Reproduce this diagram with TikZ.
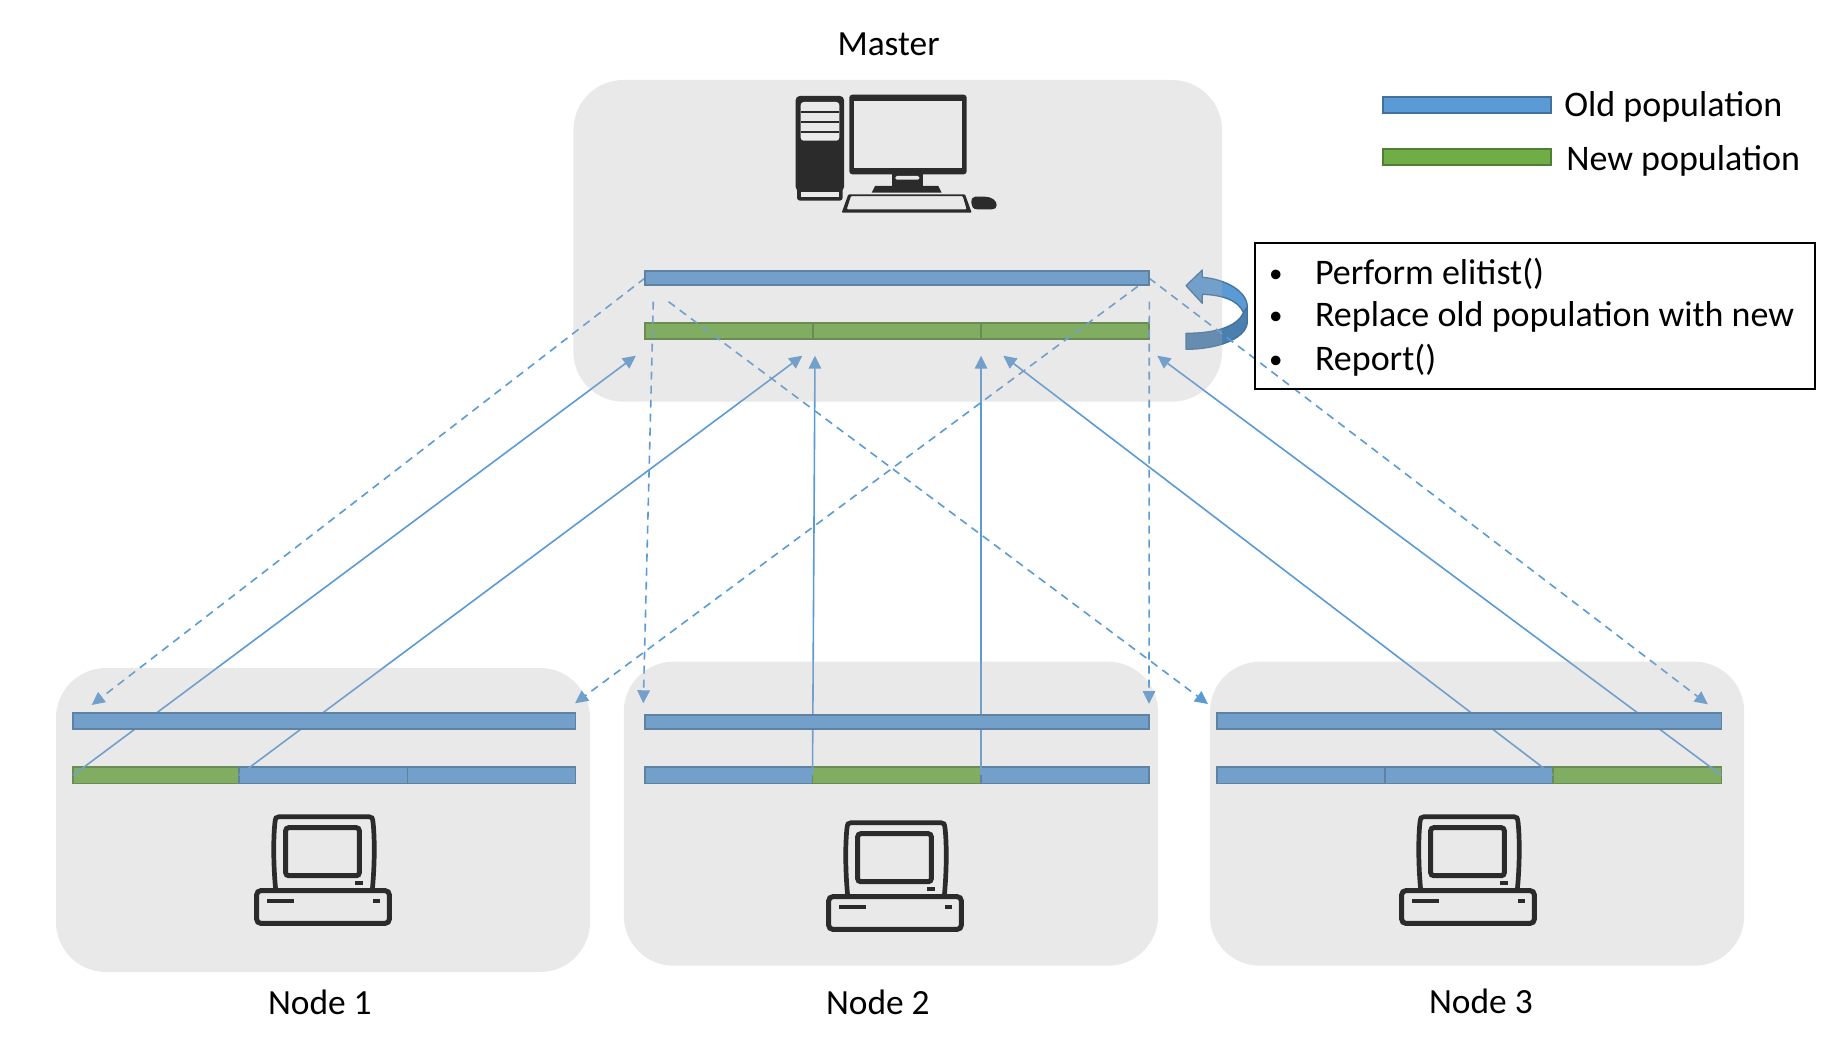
\documentclass[tikz,border=0pt]{standalone}
\usepackage{fontspec}
\setmainfont{Carlito}
\usetikzlibrary{arrows.meta}
\pgfdeclarelayer{lowbars}
\pgfdeclarelayer{conn}
\pgfdeclarelayer{upbars}
\pgfdeclarelayer{veil}
\pgfsetlayers{lowbars,conn,upbars,veil,main}
\definecolor{oldfill}{HTML}{5B9BD5}
\definecolor{oldedge}{HTML}{41719C}
\definecolor{newfill}{HTML}{70AD47}
\definecolor{newedge}{HTML}{507E32}
\definecolor{veilcol}{HTML}{AFAFAF}
\definecolor{panel}{HTML}{E9E9E9}
\definecolor{icon}{HTML}{2B2B2B}
\tikzset{
  x=1pt,y=-1pt,
  barbase/.style={rectangle,anchor=north west,inner sep=0pt,outer sep=0pt,line width=1.8pt},
  oldbar/.style={barbase,fill=oldfill,draw=oldedge},
  newbar/.style={barbase,fill=newfill,draw=newedge},
  hostbox/.style={rectangle,anchor=north west,inner sep=0pt,outer sep=0pt,rounded corners=50pt,fill=veilcol,fill opacity=.274},
  label/.style={anchor=base west,inner sep=0pt,outer sep=0pt,font=\fontsize{36}{42}\selectfont},
  title/.style={anchor=base west,inner sep=0pt,outer sep=0pt,font=\fontsize{35.4}{42}\selectfont},
  sendline/.style={draw=oldfill,line width=1.6pt,dash pattern=on 8pt off 6pt,-{Triangle[length=13pt,width=12.5pt,fill=oldfill]}},
  backline/.style={draw=oldfill,line width=1.6pt,-{Triangle[length=13pt,width=12.5pt,fill=oldfill]}},
  smallpc/.pic={
    \draw[icon,line width=5pt,rounded corners=4pt] (256.7,890.7) rectangle (389.3,923.3);
    \draw[icon,line width=4.7pt,line cap=round] (275.5,888) .. controls (273,860) and (273.5,835) .. (275,822) .. controls (275.5,818) and (276,816.7) .. (279,816.7) -- (369,816.7) .. controls (372,816.7) and (372.5,818) .. (373,822) .. controls (374.5,835) and (375,860) .. (372.5,888);
    \draw[icon,line width=5pt,rounded corners=3pt] (285.7,827.7) rectangle (359.3,875.7);
    \fill[icon] (355.3,881) rectangle (363,885);
    \fill[icon] (266.7,899.3) rectangle (294.3,903.3);
    \fill[icon] (372.7,899) rectangle (380,903);
  }
}
\newcommand{\smallbullet}{\makebox[46pt][l]{\raisebox{1.5pt}{\fontsize{27}{30}\selectfont •}}}
\begin{document}
\begin{tikzpicture}
\useasboundingbox (0,0) rectangle (1848,1038);
% connector free ends
\coordinate (upA) at (635.9,355.7);
\coordinate (upB) at (802.4,355.7);
\coordinate (upC) at (815,355.7);
\coordinate (upD) at (981,355.7);
\coordinate (upE) at (1003.3,355.7);
\coordinate (upF) at (1157.3,355.7);
\coordinate (dnA) at (91.7,705);
\coordinate (dnB) at (575,703.3);
\coordinate (dnC) at (643.3,703.3);
\coordinate (dnD) at (1149,704);
\coordinate (dnE) at (1208,704);
\coordinate (dnF) at (1707.8,704.3);
\coordinate (mstartB) at (653.3,301.7);
\coordinate (mstartE) at (668.5,301.7);
\coordinate (mstartD) at (1149.3,301.7);
% lower bars
\begin{pgfonlayer}{lowbars}
\fill[white] (0,0) rectangle (1848,1038);
\node[newbar,minimum width=168pt,minimum height=16.5pt] (mg1) at (645,322.7) {};
\node[newbar,minimum width=168pt,minimum height=16.5pt] (mg2) at (813,322.7) {};
\node[newbar,minimum width=168pt,minimum height=16.5pt] (mg3) at (981,322.7) {};
\node[newbar,minimum width=166pt,minimum height=16.5pt] (n1a) at (73,767) {};
\node[oldbar,minimum width=168.5pt,minimum height=16.5pt] (n1b) at (239,767) {};
\node[oldbar,minimum width=168pt,minimum height=16.5pt] (n1c) at (407.5,767) {};
\node[oldbar,minimum width=167.5pt,minimum height=16.5pt] (n2a) at (645,767) {};
\node[newbar,minimum width=168.5pt,minimum height=16.5pt] (n2b) at (812.5,767) {};
\node[oldbar,minimum width=168pt,minimum height=16.5pt] (n2c) at (981,767) {};
\node[oldbar,minimum width=168pt,minimum height=16.5pt] (n3a) at (1217,767) {};
\node[oldbar,minimum width=168pt,minimum height=16.5pt] (n3b) at (1385,767) {};
\node[newbar,minimum width=168.5pt,minimum height=16.5pt] (n3c) at (1553,767) {};
% curved arrow
\fill[oldfill] (1186,285.7) -- (1202.3,270) -- (1202.3,277.3) .. controls (1225,279) and (1247.3,291) .. (1247.3,307) -- (1243.5,312.5) .. controls (1238,300) and (1222,295) .. (1202.3,294.3) -- (1202.3,303.3) -- cycle;
\draw[oldedge,line width=1.3pt,line join=round] (1186,285.7) -- (1202.3,270) -- (1202.3,277.3) .. controls (1225,279) and (1247.3,291) .. (1247.3,307) -- (1243.5,312.5) .. controls (1238,300) and (1222,295) .. (1202.3,294.3) -- (1202.3,303.3) -- cycle;
\filldraw[fill=oldfill!82!black,draw=oldedge,line width=1.3pt,line join=round] (1186,333.3) .. controls (1215,333.3) and (1237,327) .. (1243.5,312.5) -- (1247.3,307) -- (1247.3,323) .. controls (1245,340) and (1215,349.3) .. (1186,349.3) -- cycle;
\end{pgfonlayer}
% upper bars
\begin{pgfonlayer}{upbars}
\node[oldbar,minimum width=504pt,minimum height=14.5pt] (mold) at (645,270.8) {};
\node[oldbar,minimum width=502.5pt,minimum height=16pt] (n1old) at (73,713) {};
\node[oldbar,minimum width=504pt,minimum height=14.5pt] (n2old) at (645,714.7) {};
\node[oldbar,minimum width=504.5pt,minimum height=16pt] (n3old) at (1217,713) {};
\end{pgfonlayer}
% connectors
\begin{pgfonlayer}{conn}
\draw[backline] (n1a.west) -- (upA);
\draw[backline] (n1b.west) -- (upB);
\draw[backline] (n2b.west) -- (upC);
\draw[backline] (n2b.east) -- (upD);
\draw[backline] (n3b.east) -- (upE);
\draw[backline] (n3c.east) -- (upF);
\draw[sendline] (mold.west) -- (dnA);
\draw[sendline] (mstartB) -- (dnC);
\draw[sendline] (mstartE) -- (dnE);
\draw[sendline] (mold.east) -- (dnB);
\draw[sendline] (mstartD) -- (dnD);
\draw[sendline] (mold.east) -- (dnF);
\end{pgfonlayer}
% veils
\begin{pgfonlayer}{veil}
\node[hostbox,minimum width=648.6pt,minimum height=321.7pt] (master) at (573.4,80) {};
\node[hostbox,minimum width=534pt,minimum height=304pt] (node1) at (56,668) {};
\node[hostbox,minimum width=534.2pt,minimum height=304pt] (node2) at (623.8,661.7) {};
\node[hostbox,minimum width=534.2pt,minimum height=304pt] (node3) at (1210,661.7) {};
\end{pgfonlayer}
% legend
\node[oldbar,minimum width=168pt,minimum height=16pt] (legold) at (1383.3,97) {};
\node[newbar,minimum width=168pt,minimum height=16pt] (legnew) at (1383.3,149) {};
\node[label] (toldpop) at (1564.3,116.3) {Old population};
\node[label] (tnewpop) at (1566.3,170.3) {New population};
% text box
\node[rectangle,anchor=north west,draw=black,line width=1.9pt,inner sep=0pt,outer sep=0pt,minimum width=560pt,minimum height=146pt] (todo) at (1255,243) {};
\node[label] (todo1) at (1269,284.3) {\smallbullet Perform elitist()};
\node[label] (todo2) at (1269,326) {\smallbullet Replace old population with new};
\node[label] (todo3) at (1269,370.3) {\smallbullet Report()};
% titles
\node[title] (tmaster) at (837.5,56) {Master};
\node[title] (tn1) at (268,1014.3) {Node 1};
\node[title] (tn2) at (826,1014.3) {Node 2};
\node[title] (tn3) at (1429,1013) {Node 3};
% master computer
\fill[icon,rounded corners=4pt] (795.7,96) rectangle (844,191);
\fill[icon,rounded corners=3pt] (797,185) rectangle (842.7,200.7);
\fill[panel,rounded corners=3pt] (800.7,102) rectangle (839.3,140.7);
\fill[panel] (800.7,192) rectangle (839.3,196.7);
\draw[icon,line width=1.3pt] (800.7,112) -- (839.3,112) (800.7,122) -- (839.3,122) (800.7,132) -- (839.3,132);
\fill[icon,rounded corners=3pt] (849.3,94.7) rectangle (966.7,174.3);
\fill[panel] (854,100.7) rectangle (962,168.3);
\fill[icon] (892,174) rectangle (923,187);
\fill[panel,rounded corners=1.5pt] (895.3,176) rectangle (919.3,179.7);
\fill[icon] (875,186) -- (938.3,186) -- (941.7,192.7) -- (871.7,192.7) -- cycle;
\fill[icon,rounded corners=1pt,even odd rule] (848.3,194.3) -- (965,194.3) -- (971.7,212.7) -- (841.7,212.7) -- cycle (851,196) -- (962.7,196) -- (966.7,209.3) -- (846.7,209.3) -- cycle;
\fill[icon] (975,196.7) -- (985,196.7) .. controls (992,196.7) and (996.7,201) .. (996.7,205) .. controls (996.7,208) and (995,209.3) .. (992,209.3) -- (977,209.3) .. controls (973,209.3) and (971.3,206) .. (971.3,203) .. controls (971.3,199) and (972.5,196.7) .. (975,196.7) -- cycle;
% small computers
\pic at (0,0) {smallpc};
\pic at (572,6) {smallpc};
\pic at (1145,0) {smallpc};
\end{tikzpicture}
\end{document}
